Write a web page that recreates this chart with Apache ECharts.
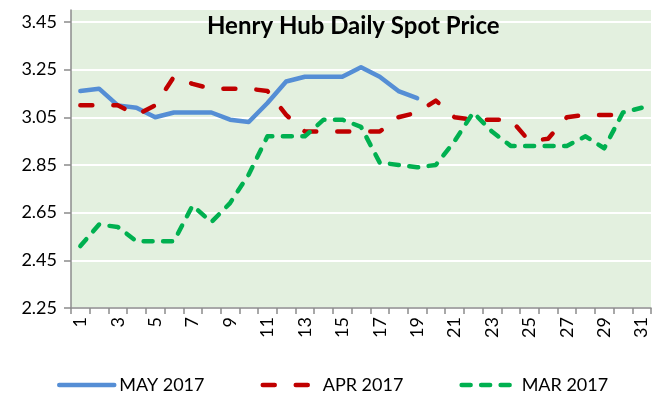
<!DOCTYPE html>
<html><head><meta charset="utf-8">
<script src="https://cdn.jsdelivr.net/npm/echarts@6/dist/echarts.min.js"></script>
<style>html,body{margin:0;padding:0;background:#fff}#c{width:657px;height:406px}</style>
</head><body><div id="c"></div>
<script>
const days = ['1','2','3','4','5','6','7','8','9','10','11','12','13','14','15','16','17','18','19','20','21','22','23','24','25','26','27','28','29','30','31'];
const may2017 = [3.16,3.17,3.10,3.09,3.05,3.07,3.07,3.07,3.04,3.03,3.11,3.20,3.22,3.22,3.22,3.26,3.22,3.16,3.13];
const apr2017 = [3.10,3.10,3.10,3.06,3.10,3.22,3.19,3.17,3.17,3.17,3.16,3.06,2.99,2.99,2.99,2.99,2.99,3.05,3.07,3.12,3.05,3.04,3.04,3.04,2.95,2.96,3.05,3.06,3.06,3.06];
const mar2017 = [2.51,2.60,2.59,2.53,2.53,2.53,2.68,2.61,2.69,2.81,2.97,2.97,2.97,3.04,3.04,3.01,2.86,2.85,2.84,2.85,2.95,3.07,2.99,2.93,2.93,2.93,2.93,2.97,2.92,3.07,3.09];
const yTicks = [2.25,2.45,2.65,2.85,3.05,3.25,3.45];
const seriesNames = ['MAY 2017','APR 2017','MAR 2017'];
const FONT = 'Lato, "Open Sans", sans-serif';

const chart = echarts.init(document.getElementById('c'), null, {renderer:'canvas'});
chart.setOption({
  animation:false,
  backgroundColor:'#fff',
  title:{text:'Henry Hub Daily Spot Price', left:207, top:14, padding:0,
    textStyle:{fontFamily:FONT, fontSize:24, fontWeight:'bold', color:'#000'}},
  legend:{left:57, top:376, padding:0, itemWidth:55, itemHeight:6, itemGap:56,
    itemStyle:{opacity:0}, lineStyle:{width:4.5},
    textStyle:{fontFamily:FONT, fontSize:18, color:'#000'},
    data:seriesNames},
  grid:{left:71, right:6, top:10, bottom:98, show:true, backgroundColor:'#E3F0DF', borderWidth:0},
  xAxis:{type:'category', data:days, boundaryGap:true,
    axisLine:{lineStyle:{color:'#8C8C8C', width:1.5}},
    axisTick:{show:true, interval:0, length:6, lineStyle:{color:'#8C8C8C', width:1.5}},
    axisLabel:{interval:1, rotate:90, margin:9, fontFamily:FONT, fontSize:18, color:'#000'},
    splitLine:{show:false}},
  yAxis:{type:'value', min:2.25, max:3.5,
    axisLine:{show:true, lineStyle:{color:'#8C8C8C', width:1.5}},
    axisTick:{show:true, length:7, customValues:yTicks, lineStyle:{color:'#8C8C8C', width:1.5}},
    axisLabel:{customValues:yTicks, margin:14, fontFamily:FONT, fontSize:18, color:'#000',
      formatter:v=>v.toFixed(2)},
    splitLine:{show:true, lineStyle:{color:'#fff', width:2}}},
  series:[
    {name:seriesNames[0], type:'line', data:may2017, symbol:'none', smooth:false,
      lineStyle:{color:'#558ED5', width:4.5, cap:'round', join:'round'}, itemStyle:{color:'#558ED5'}},
    {name:seriesNames[1], type:'line', data:apr2017, symbol:'none',
      lineStyle:{color:'#C00000', width:4.5, type:[12,21], cap:'round', join:'round'}, itemStyle:{color:'#C00000'}},
    {name:seriesNames[2], type:'line', data:mar2017, symbol:'none',
      lineStyle:{color:'#00B050', width:4.5, type:[9,10.5], cap:'round', join:'round'}, itemStyle:{color:'#00B050'}}
  ]
});
</script></body></html>
